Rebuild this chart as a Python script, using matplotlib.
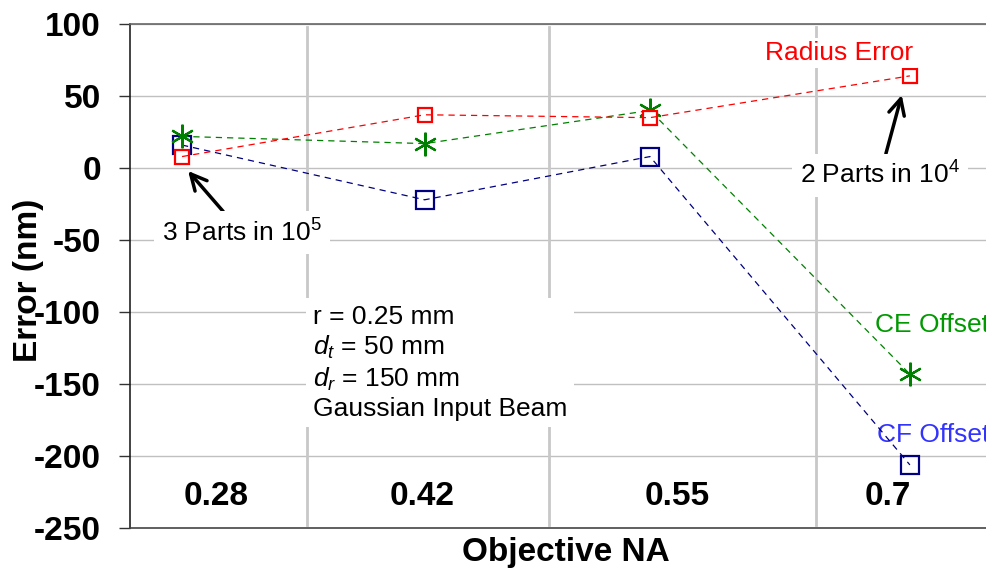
import matplotlib
matplotlib.use("Agg")
import matplotlib.pyplot as plt

plt.rcParams['font.family'] = ['Liberation Sans', 'DejaVu Sans']
plt.rcParams['mathtext.fontset'] = 'custom'
plt.rcParams['mathtext.rm'] = 'Liberation Sans'
plt.rcParams['mathtext.it'] = 'Liberation Sans:italic'
plt.rcParams['mathtext.bf'] = 'Liberation Sans:bold'

# Objective numerical aperture and measured errors (nm)
na_values = [0.28, 0.42, 0.55, 0.70]
na_labels = ["0.28", "0.42", "0.55", "0.7"]
radius_error = [8, 37, 35, 64]
ce_offset = [22, 17, 40, -143]
cf_offset = [16, -22, 8, -206]

y_ticks = [100, 50, 0, -50, -100, -150, -200, -250]

# layout: category band separators and label positions (NA units)
separators = [0.352, 0.492, 0.646]
label_x = [0.2996, 0.4185, 0.5656, 0.6874]
label_y = -228

TXT = 19
BOLD = 24

fig = plt.figure(figsize=(9.86, 5.73), dpi=100)
ax = fig.add_axes([0.1319, 0.0780, 0.8788, 0.8801])
ax.set_xlim(0.25, 0.75)
ax.set_ylim(-250, 100)

# horizontal grid
for yv in y_ticks[:-1]:
    ax.axhline(yv, color="#C0C0C0", lw=1.0, zorder=1)
# band separators
for xs in separators:
    ax.axvline(xs, ymin=0.006, ymax=0.994, color="#C8C8C8", lw=2.0, zorder=1.5)

dash = (0, (5, 4))


def series(y, color, marker, ms, mfc, z):
    ax.plot(na_values, y, linestyle="none", marker=marker, ms=ms, mec=color,
            mfc=mfc, mew=1.6, zorder=z)
    ax.plot(na_values, y, linestyle=dash, color=color, lw=0.9, zorder=z + 0.1)


series(cf_offset, "#000080", "s", 13.5, "none", 3)
series(ce_offset, "#008000", (6, 2, 0), 17, "none", 3.3)
series(radius_error, "#FF0000", "s", 10, "white", 3.6)

# category labels inside the plot
for xl, lab in zip(label_x, na_labels):
    ax.text(xl, label_y, lab, ha="center", va="center", fontsize=BOLD,
            fontweight="bold", zorder=5)

white_box = dict(boxstyle="square,pad=0.3", fc="white", ec="none")

ax.text(0.6594, 80, "Radius Error", color="#FF0000", fontsize=TXT,
        ha="center", va="center",
        bbox=dict(boxstyle="square,pad=0.12", fc="white", ec="none"), zorder=6)
ax.text(0.6799, -109, "CE Offset", color="#009900", fontsize=TXT,
        ha="left", va="center",
        bbox=dict(boxstyle="square,pad=0.1", fc="white", ec="none"), zorder=2.5)
ax.text(0.6811, -185.4, "CF Offset", color="#3333FF", fontsize=TXT,
        ha="left", va="center", zorder=2.5)

arrow = dict(arrowstyle="->,head_length=0.6,head_width=0.3",
             color="black", lw=2.5, shrinkA=0, shrinkB=0)
ax.annotate("3 Parts in 10$^{5}$", xy=(0.2835, -2), xytext=(0.3145, -45),
            fontsize=TXT, ha="center", va="center", bbox=white_box, zorder=6,
            arrowprops=arrow)
ax.annotate("2 Parts in 10$^{4}$", xy=(0.6953, 50.7), xytext=(0.6828, -4.9),
            fontsize=TXT, ha="center", va="center", bbox=white_box, zorder=6,
            arrowprops=arrow)

params = ("r = 0.25 mm\n$d_t$ = 50 mm\n$d_r$ = 150 mm\nGaussian Input Beam")
ax.text(0.3556, -95, params, fontsize=TXT, ha="left", va="top",
        linespacing=1.22, zorder=6,
        bbox=dict(boxstyle="square,pad=0.25", fc="white", ec="none"))

# axes styling
ax.set_xticks([])
ax.set_yticks(y_ticks)
ax.set_yticklabels([str(v) for v in y_ticks], fontsize=BOLD, fontweight="bold")
ax.tick_params(axis="y", direction="out", length=8, width=1.0, color="#333333", pad=13)
ax.spines["right"].set_visible(False)
ax.spines["left"].set_color("#222222")
ax.spines["top"].set_color("#666666")
ax.spines["bottom"].set_color("#444444")
for s in ("left", "top", "bottom"):
    ax.spines[s].set_linewidth(1.2)

fig.text(0.0284, 1 - 280 / 573, "Error (nm)", rotation=90, fontsize=BOLD,
         fontweight="bold", ha="center", va="center")
fig.text(566 / 986, 1 - 553 / 573, "Objective NA", fontsize=BOLD,
         fontweight="bold", ha="center", va="center")

fig.savefig("out.png", dpi=100)
